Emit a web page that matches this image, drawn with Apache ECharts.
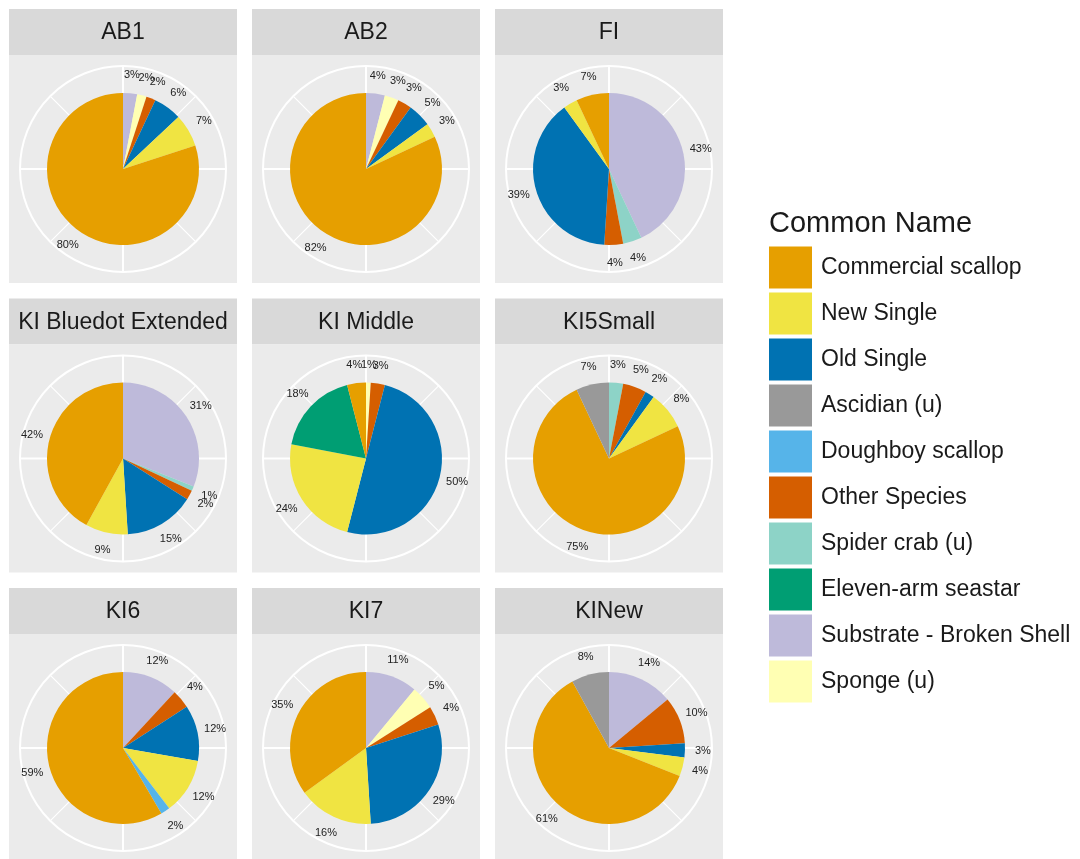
<!DOCTYPE html>
<html>
<head>
<meta charset="utf-8">
<script src="https://cdn.jsdelivr.net/npm/echarts@6/dist/echarts.min.js"></script>
<style>
html,body{margin:0;padding:0;background:#fff;}
#chart{width:1080px;height:859px;}
</style>
</head>
<body>
<div id="chart"></div>
<script>
// Legend order of species
const species = ['Commercial scallop','New Single','Old Single','Ascidian (u)','Doughboy scallop','Other Species','Spider crab (u)','Eleven-arm seastar','Substrate - Broken Shell','Sponge (u)'];
const speciesColors = ['#E69F00','#F0E442','#0072B2','#999999','#56B4E9','#D55E00','#8DD3C7','#009E73','#BEBADA','#FFFFB3'];
// Clockwise order of slices from 12 o'clock
const sliceOrder = ['Substrate - Broken Shell','Sponge (u)','Spider crab (u)','Other Species','Old Single','New Single','Doughboy scallop','Eleven-arm seastar','Commercial scallop','Ascidian (u)'];
const sites = ['AB1','AB2','FI','KI Bluedot Extended','KI Middle','KI5Small','KI6','KI7','KINew'];
// Percent values per site, in sliceOrder
const AB1      = [3, 2, 0, 2, 6, 7, 0, 0, 80, 0];
const AB2      = [4, 3, 0, 3, 5, 3, 0, 0, 82, 0];
const FI       = [43, 0, 4, 4, 39, 3, 0, 0, 7, 0];
const KIBluedot= [31, 0, 1, 2, 15, 9, 0, 0, 42, 0];
const KIMiddle = [0, 1, 0, 3, 50, 24, 0, 18, 4, 0];
const KI5Small = [0, 0, 3, 5, 2, 8, 0, 0, 75, 7];
const KI6      = [12, 0, 0, 4, 12, 12, 2, 0, 59, 0];
const KI7      = [11, 5, 0, 4, 29, 16, 0, 0, 35, 0];
const KINew    = [14, 0, 0, 10, 3, 4, 0, 0, 61, 8];
const siteValues = [AB1, AB2, FI, KIBluedot, KIMiddle, KI5Small, KI6, KI7, KINew];

const FONT = '"Liberation Sans", Arial, sans-serif';
const colX = [9, 252, 495];
const rowY = [9, 298.5, 588];
const PW = 228, SH = 46, BH = 228;
const colorOf = n => speciesColors[species.indexOf(n)];

const graphics = [];
const polars = [], angleAxes = [], radiusAxes = [];
const pieSeries = [], labelSeries = [];

sites.forEach((site, i) => {
  const c = i % 3, r = Math.floor(i / 3);
  const x0 = colX[c], y0 = rowY[r];
  const cx = x0 + PW / 2, cy = y0 + SH + BH / 2;
  graphics.push({type:'rect', z:-10, shape:{x:x0, y:y0, width:PW, height:SH}, style:{fill:'#D9D9D9'}, silent:true});
  graphics.push({type:'rect', z:-10, shape:{x:x0, y:y0+SH, width:PW, height:BH}, style:{fill:'#EBEBEB'}, silent:true});
  graphics.push({type:'text', z:10, x:cx, y:y0 + SH/2 + 1, silent:true,
    style:{text:site, fill:'#1A1A1A', font:'23px ' + FONT, textAlign:'center', textVerticalAlign:'middle'}});

  polars.push({center:[cx, cy], radius:103});
  angleAxes.push({polarIndex:i, type:'value', min:0, max:100, interval:25, startAngle:90, clockwise:true,
    axisLine:{show:true, lineStyle:{color:'#FFFFFF', width:2}},
    axisTick:{show:false}, axisLabel:{show:false},
    splitLine:{show:true, lineStyle:{color:'#FFFFFF', width:2}},
    minorTick:{show:false, splitNumber:2},
    minorSplitLine:{show:true, lineStyle:{color:'#FFFFFF', width:1.2}}, z:0});
  radiusAxes.push({polarIndex:i, type:'value', min:0, max:1,
    axisLine:{show:false}, axisTick:{show:false}, axisLabel:{show:false}, splitLine:{show:false}});

  const data = [];
  siteValues[i].forEach((v, k) => {
    if (v > 0) data.push({name:sliceOrder[k], value:v, itemStyle:{color:colorOf(sliceOrder[k])}});
  });
  pieSeries.push({type:'pie', name:site, center:[cx, cy], radius:[0, 76], startAngle:90, clockwise:true,
    avoidLabelOverlap:false, silent:true, animation:false, z:3,
    itemStyle:{borderWidth:0},
    label:{show:false}, labelLine:{show:false}, emphasis:{disabled:true},
    data:data});
  labelSeries.push({type:'pie', name:site + ' labels', center:[cx, cy], radius:[80, 102], startAngle:90, clockwise:true,
    avoidLabelOverlap:false, silent:true, animation:false, z:4, legendHoverLink:false,
    itemStyle:{color:'transparent', borderWidth:0},
    label:{show:true, position:'inside', formatter:'{c}%', fontSize:11, color:'#222', fontFamily:FONT, rotate:0, overflow:'none'},
    labelLayout:{hideOverlap:false, moveOverlap:null},
    labelLine:{show:false}, emphasis:{disabled:true},
    data:data.map(d => ({name:d.name, value:d.value}))});
});

graphics.push({type:'text', z:10, x:769, y:224, silent:true,
  style:{text:'Common Name', fill:'#1A1A1A', font:'29px ' + FONT, textAlign:'left', textVerticalAlign:'middle'}});

const chart = echarts.init(document.getElementById('chart'), null, {renderer:'canvas'});
chart.setOption({
  animation:false,
  backgroundColor:'#FFFFFF',
  graphic:{elements:graphics},
  polar:polars,
  angleAxis:angleAxes,
  radiusAxis:radiusAxes,
  legend:{
    data:species, orient:'vertical', left:769, top:246.5, padding:0,
    itemWidth:43, itemHeight:42, itemGap:4, icon:'rect', selectedMode:false,
    textStyle:{fontSize:23, color:'#1A1A1A', fontFamily:FONT, padding:[0,0,0,4]}
  },
  series:pieSeries.concat(labelSeries)
});
</script>
</body>
</html>
